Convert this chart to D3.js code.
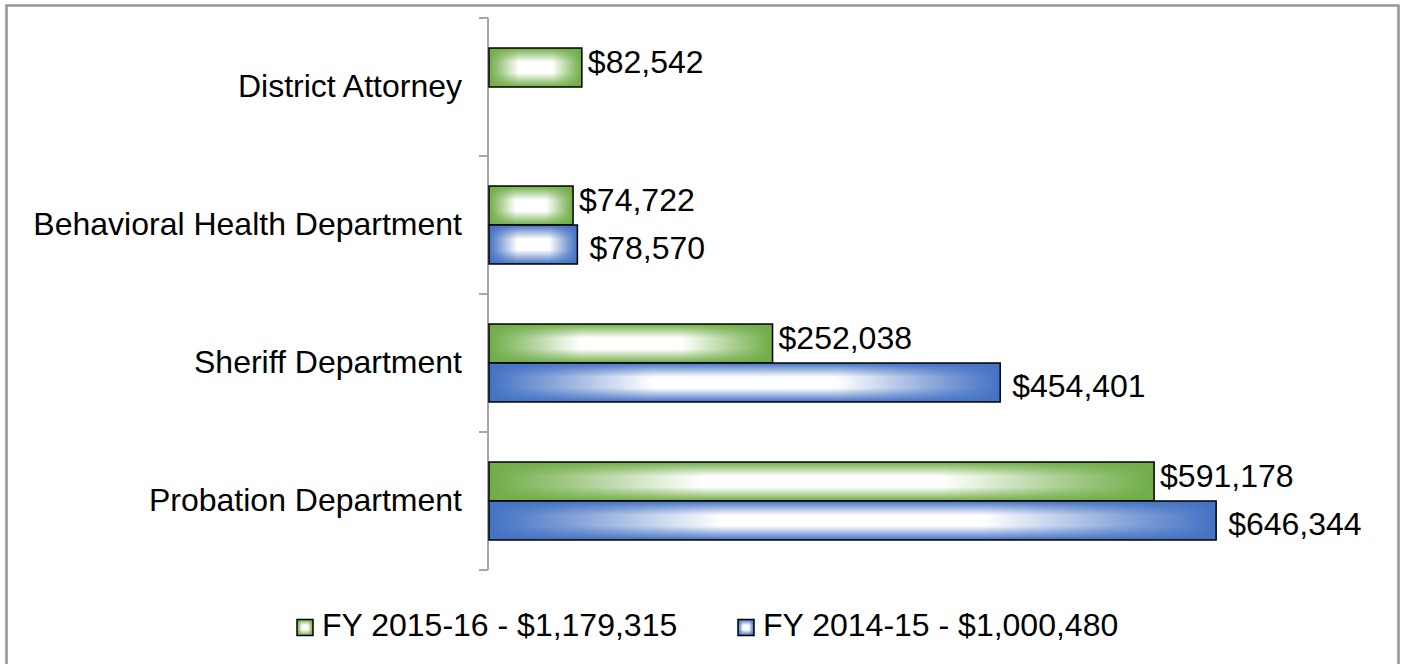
<!DOCTYPE html>
<html>
<head>
<meta charset="utf-8">
<script src="https://cdn.jsdelivr.net/npm/d3@7"></script>
<style>
  body { margin: 0; background: #fff; }
  text { font-family: "Liberation Sans", Arial, sans-serif; fill: #000; }
</style>
</head>
<body>
<svg id="chart" width="1405" height="664"></svg>
<script>
// departments, top to bottom as drawn
var departments = ['District Attorney', 'Behavioral Health Department', 'Sheriff Department', 'Probation Department'];
var seriesNames = ['FY 2015-16 - $1,179,315', 'FY 2014-15 - $1,000,480'];
var fy1516 = [82542, 74722, 252038, 591178];
var fy1415 = [null, 78570, 454401, 646344];
var seriesColors = ['#70AD47', '#4472C4'];

var svg = d3.select('#chart');
var defs = svg.append('defs');

// frame
svg.append('rect')
   .attr('x', 6.5).attr('y', 5.5)
   .attr('width', 1392).attr('height', 720)
   .attr('fill', '#fff')
   .attr('stroke', '#959595')
   .attr('stroke-width', 2.5);

// "path" style fill: edge colour fading to a white centre
var hfade = defs.append('linearGradient').attr('id', 'hfade');
[[0, 0], [0.12, 0.35], [0.32, 1], [0.68, 1], [0.88, 0.35], [1, 0]].forEach(function (s) {
  hfade.append('stop').attr('offset', s[0]).attr('stop-color', '#fff').attr('stop-opacity', s[1]);
});
var vgrad = defs.append('linearGradient').attr('id', 'vgrad')
                .attr('x1', 0).attr('y1', 0).attr('x2', 0).attr('y2', 1);
[[0, '#000'], [0.36, '#fff'], [0.64, '#fff'], [1, '#000']].forEach(function (s) {
  vgrad.append('stop').attr('offset', s[0]).attr('stop-color', s[1]);
});
defs.append('mask').attr('id', 'vmask')
    .attr('maskContentUnits', 'objectBoundingBox')
    .append('rect').attr('x', 0).attr('y', 0).attr('width', 1).attr('height', 1)
    .attr('fill', 'url(#vgrad)');

function gradientBox(g, x, y, w, h, color) {
  g.append('rect').attr('x', x).attr('y', y).attr('width', w).attr('height', h).attr('fill', color);
  g.append('rect').attr('x', x).attr('y', y).attr('width', w).attr('height', h)
   .attr('fill', 'url(#hfade)').attr('mask', 'url(#vmask)');
  g.append('rect').attr('x', x).attr('y', y).attr('width', w).attr('height', h)
   .attr('fill', 'none').attr('stroke', '#000').attr('stroke-width', 1.5);
}

var x = d3.scaleLinear().domain([0, 700000]).range([489, 1276.5]);
var y = d3.scaleBand().domain(departments).range([18, 570]).paddingInner(0).paddingOuter(0);
var ySub = d3.scaleBand().domain([0, 1]).range([0, y.bandwidth()]).paddingInner(0).paddingOuter(0.77);

// axis with category labels
var axis = svg.append('g')
  .attr('transform', 'translate(488,0)')
  .call(d3.axisLeft(y).tickSize(0).tickPadding(26));
axis.select('.domain').remove();
axis.selectAll('text').style('font-size', '32px').style('font-family', '"Liberation Sans", Arial, sans-serif');

svg.append('line')
   .attr('x1', 488).attr('x2', 488).attr('y1', 18).attr('y2', 570)
   .attr('stroke', '#a6a6a6').attr('stroke-width', 2);
var bounds = departments.map(function (d) { return y(d); }).concat([570]);
svg.selectAll('.cat-tick').data(bounds).enter().append('line')
   .attr('class', 'cat-tick')
   .attr('x1', 479).attr('x2', 488)
   .attr('y1', function (d) { return d; }).attr('y2', function (d) { return d; })
   .attr('stroke', '#a6a6a6').attr('stroke-width', 2);

// bars
var series = [fy1516, fy1415];
series.forEach(function (vals, si) {
  departments.forEach(function (dep, i) {
    var v = vals[i];
    if (v == null) return;
    var by = y(dep) + ySub(si), bh = ySub.bandwidth();
    var g = svg.append('g').attr('class', 'bar');
    gradientBox(g, x(0), by, x(v) - x(0), bh, seriesColors[si]);
    svg.append('text')
       .attr('class', 'value')
       .attr('x', x(v) + (si == 0 ? 6 : 12))
       .attr('y', by + bh / 2 + (si == 0 ? 5 : 15))
       .style('font-size', '32px')
       .text('$' + d3.format(',')(v));
  });
});

// legend
var legendX = [297, 738];
seriesNames.forEach(function (name, si) {
  var g = svg.append('g').attr('class', 'legend');
  gradientBox(g, legendX[si], 619.5, 16, 16, seriesColors[si]);
  g.append('text')
   .attr('x', legendX[si] + 25)
   .attr('y', 636)
   .style('font-size', '32px')
   .text(name);
});
</script>
</body>
</html>
